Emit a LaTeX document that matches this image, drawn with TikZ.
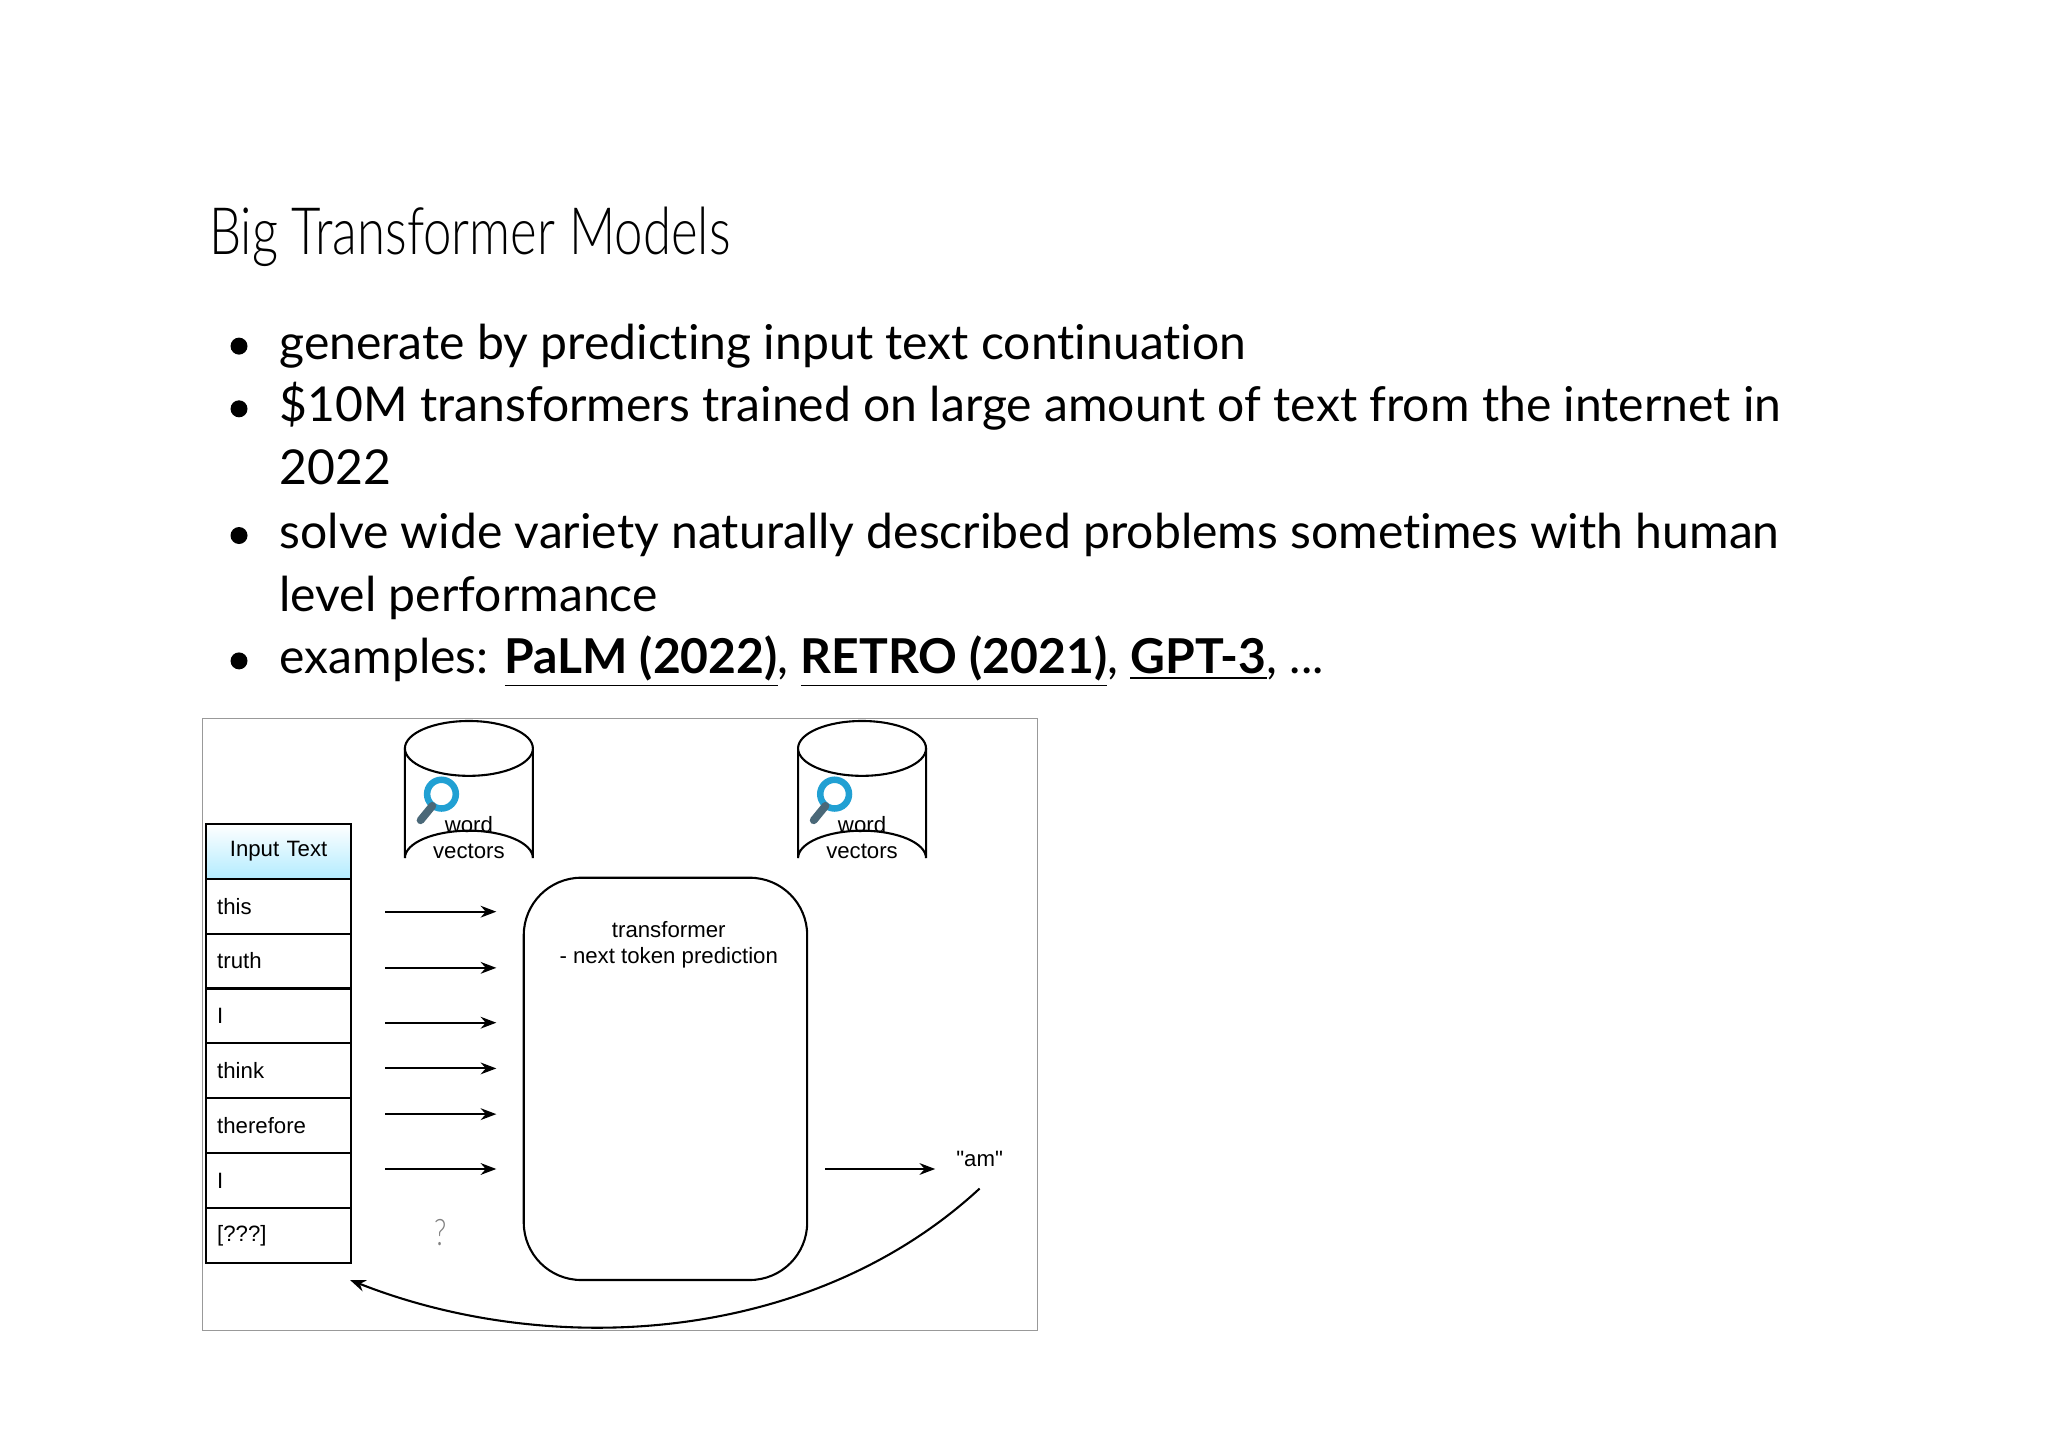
\documentclass[tikz,border=0pt]{standalone}
\usepackage{fontspec}
\setmainfont[Ligatures={NoCommon,NoRequired,NoContextual}]{Lato}
\newfontfamily\arialf{Liberation Sans}
\newfontfamily\titlef[FakeStretch=0.78]{Lato Light}
\usetikzlibrary{arrows.meta,shapes.geometric}
\begin{document}
\begin{tikzpicture}[x=0.5pt,y=-0.5pt,
  cell/.style={draw,thick,minimum width=55.5pt,minimum height=21pt,inner sep=4pt,text width=47pt,align=left,font=\arialf\fontsize{8.5}{10}\selectfont,anchor=north west},
  arr/.style={-{Stealth[length=6pt,width=4.5pt]},thick},
  dtext/.style={font=\arialf\fontsize{8.5}{10}\selectfont}]
\useasboundingbox (0,0) rectangle (1568,1108);
\node[anchor=base west,font=\titlef\fontsize{25}{30}\selectfont] (title) at (153,195) {Big Transformer Models};
\begin{scope}[every node/.style={anchor=base west,font=\fontsize{18.4}{22}\selectfont}]
\foreach \y in {275,323,420,516} \fill (183,\y-10) circle (6.5);
\node (b1) at (207,275) {generate by predicting input text continuation};
\node (b2) at (207,323) {\$10M transformers trained on large amount of text from the internet in};
\node (b2b) at (207,371) {2022};
\node (b3) at (207,420) {solve wide variety naturally described problems sometimes with human};
\node (b3b) at (207,468) {level performance};
\node (b4) at (207,516) {examples: \underline{\textbf{PaLM (2022)}}, \underline{\textbf{RETRO (2021)}}, \underline{\textbf{GPT-3}}, ...};
\end{scope}
\draw[gray!80] (155,550) rectangle (794,1019);
% table
\node[cell,top color=white,bottom color=blue!25!cyan!30,align=center] (hdr) at (157,630) {Input Text};
\foreach \t [count=\i] in {this,truth,I,think,therefore,I,[???]}
  \node[cell] (r\i) at (157,630+42*\i) {\t};
% arrows
\foreach \y [count=\i] in {698,741,783,818,853,895} {
  \coordinate (s\i) at (295,\y); \coordinate (e\i) at (380,\y);
  \draw[arr] (s\i) -- (e\i);}
\node[font=\titlef\fontsize{14}{14}\selectfont,gray] (q) at (337,944) {?};
% cylinders
\foreach \x in {359,660} {
  \draw[thick,fill=white] (\x-49,573) -- (\x-49,657) arc[start angle=180,end angle=360,x radius=49,y radius=21] -- (\x+49,573);
  \draw[thick,fill=white] (\x,573) ellipse[x radius=49,y radius=21];
  \node[dtext,align=center] at (\x,641) {word\\vectors};
  \draw[cyan!70!teal,line width=2.5pt] (\x-21,608) circle (11);
  \draw[cyan!40!black,line width=3pt,line cap=round] (\x-28,617) -- (\x-37,628);
}
% transformer
\draw[thick,rounded corners=22pt] (401,672) rectangle (618,980);
\node[dtext,align=center] (tr) at (512,723) {transformer\\- next token prediction};
\coordinate (o1) at (632,895); \coordinate (o2) at (716,895);
\draw[arr] (o1) -- (o2);
\node[dtext] (am) at (750,887) {"am"};
\coordinate (cs) at (750,910); \coordinate (ce) at (268,980);
\draw[arr] (cs) .. controls (620,1030) and (420,1040) .. (ce);
\end{tikzpicture}
\end{document}
